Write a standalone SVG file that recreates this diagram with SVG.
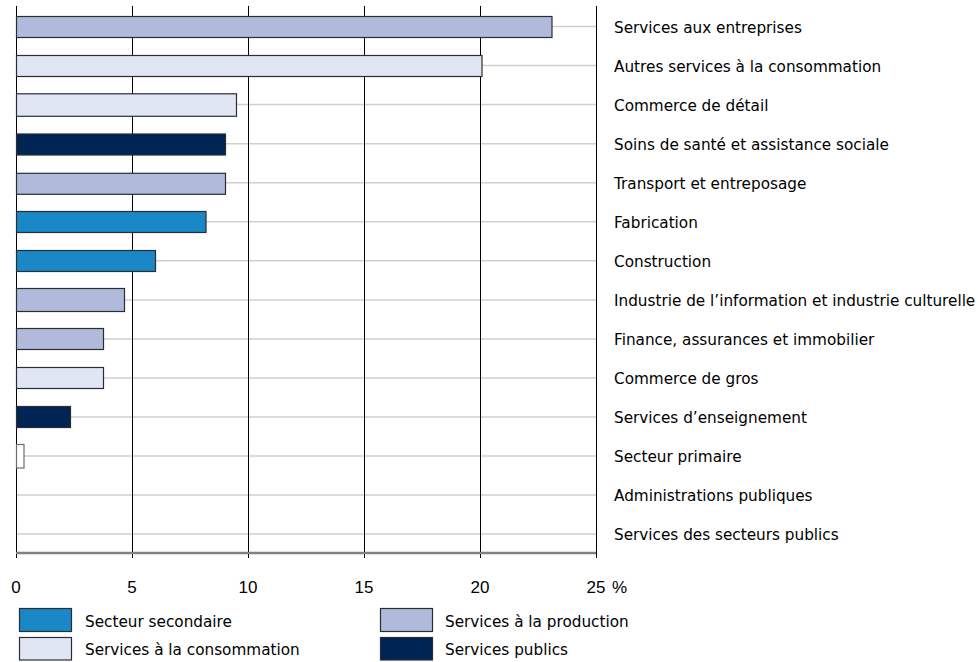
<svg xmlns="http://www.w3.org/2000/svg" width="978" height="662" viewBox="0 0 978 662">
<style>
.bg{fill:#ffffff}
.hg{stroke:#cfcfcf;stroke-width:1.5;fill:none}
.vg{stroke:#000000;stroke-width:1;fill:none}
.ax{stroke:#808080;stroke-width:2.5;fill:none}
.bar{stroke:#2a2d33;stroke-width:1.2}
.sec{fill:#1a87c6}
.prod{fill:#b0badb}
.cons{fill:#e0e6f4}
.pub{fill:#002454}
.prim{fill:#ffffff;stroke:#6b6b6b}
.lbl{font-family:"DejaVu Sans",sans-serif;font-size:15.25px;fill:#000}
.num{font-family:"Liberation Sans",Arial,sans-serif;font-size:17px;fill:#000}
</style>
<rect class="bg" x="0" y="0" width="978" height="662"/>
<g id="grid">
<line class="hg" x1="16" y1="26.5" x2="596" y2="26.5"/>
<line class="hg" x1="16" y1="65.6" x2="596" y2="65.6"/>
<line class="hg" x1="16" y1="104.6" x2="596" y2="104.6"/>
<line class="hg" x1="16" y1="143.7" x2="596" y2="143.7"/>
<line class="hg" x1="16" y1="182.7" x2="596" y2="182.7"/>
<line class="hg" x1="16" y1="221.8" x2="596" y2="221.8"/>
<line class="hg" x1="16" y1="260.8" x2="596" y2="260.8"/>
<line class="hg" x1="16" y1="299.9" x2="596" y2="299.9"/>
<line class="hg" x1="16" y1="338.9" x2="596" y2="338.9"/>
<line class="hg" x1="16" y1="378" x2="596" y2="378"/>
<line class="hg" x1="16" y1="417" x2="596" y2="417"/>
<line class="hg" x1="16" y1="456" x2="596" y2="456"/>
<line class="hg" x1="16" y1="495" x2="596" y2="495"/>
<line class="hg" x1="16" y1="534" x2="596" y2="534"/>
<line class="vg" x1="16.5" y1="6" x2="16.5" y2="558"/>
<line class="vg" x1="132.5" y1="6" x2="132.5" y2="558"/>
<line class="vg" x1="248.5" y1="6" x2="248.5" y2="558"/>
<line class="vg" x1="364.5" y1="6" x2="364.5" y2="558"/>
<line class="vg" x1="480.5" y1="6" x2="480.5" y2="558"/>
<line class="vg" x1="596.5" y1="6" x2="596.5" y2="558"/>
<line class="ax" x1="16" y1="553" x2="596" y2="553"/>
</g>
<g id="bars">
<rect id="b1" class="bar prod" x="16.5" y="16.5" width="535.5" height="21"/>
<rect id="b2" class="bar cons" x="16.5" y="55.5" width="465.5" height="21"/>
<rect id="b3" class="bar cons" x="16.5" y="93.8" width="220" height="22.5"/>
<rect id="b4" class="bar pub" x="16.5" y="134" width="209" height="21"/>
<rect id="b5" class="bar prod" x="16.5" y="173.3" width="209" height="21"/>
<rect id="b6" class="bar sec" x="16.5" y="211.5" width="189.5" height="21"/>
<rect id="b7" class="bar sec" x="16.5" y="250.5" width="139" height="21"/>
<rect id="b8" class="bar prod" x="16.5" y="288.5" width="108" height="23"/>
<rect id="b9" class="bar prod" x="16.5" y="328.5" width="87" height="21"/>
<rect id="b10" class="bar cons" x="16.5" y="367.5" width="87" height="21"/>
<rect id="b11" class="bar pub" x="16.5" y="406.5" width="54" height="21"/>
<rect id="b12" class="bar prim" x="16.5" y="444.5" width="7.5" height="23.5"/>
</g>
<g id="labels">
<text class="lbl" x="614" y="33">Services aux entreprises</text>
<text class="lbl" x="614" y="72">Autres services à la consommation</text>
<text class="lbl" x="614" y="111">Commerce de détail</text>
<text class="lbl" x="614" y="150">Soins de santé et assistance sociale</text>
<text class="lbl" x="614" y="189">Transport et entreposage</text>
<text class="lbl" x="614" y="228">Fabrication</text>
<text class="lbl" x="614" y="267">Construction</text>
<text class="lbl" x="614" y="306">Industrie de l’information et industrie culturelle</text>
<text class="lbl" x="614" y="345">Finance, assurances et immobilier</text>
<text class="lbl" x="614" y="384">Commerce de gros</text>
<text class="lbl" x="614" y="423">Services d’enseignement</text>
<text class="lbl" x="614" y="462">Secteur primaire</text>
<text class="lbl" x="614" y="501">Administrations publiques</text>
<text class="lbl" x="614" y="540">Services des secteurs publics</text>
</g>
<g id="axis-labels">
<text class="num" x="16" y="592.5" text-anchor="middle">0</text>
<text class="num" x="132" y="592.5" text-anchor="middle">5</text>
<text class="num" x="248" y="592.5" text-anchor="middle">10</text>
<text class="num" x="364" y="592.5" text-anchor="middle">15</text>
<text class="num" x="480" y="592.5" text-anchor="middle">20</text>
<text class="num" x="596" y="592.5" text-anchor="middle">25</text>
<text class="num" x="612" y="592.5">%</text>
</g>
<g id="legend">
<g id="leg-sec"><rect class="bar sec" x="19.5" y="608.5" width="52" height="23"/><text class="lbl" x="85" y="626.5">Secteur secondaire</text></g>
<g id="leg-cons"><rect class="bar cons" x="19.5" y="637.5" width="52" height="22.5"/><text class="lbl" x="85" y="655">Services à la consommation</text></g>
<g id="leg-prod"><rect class="bar prod" x="380.5" y="608.5" width="52" height="23"/><text class="lbl" x="445" y="626.5">Services à la production</text></g>
<g id="leg-pub"><rect class="bar pub" x="380.5" y="637.5" width="52" height="22.5"/><text class="lbl" x="445" y="655">Services publics</text></g>
</g>
</svg>
